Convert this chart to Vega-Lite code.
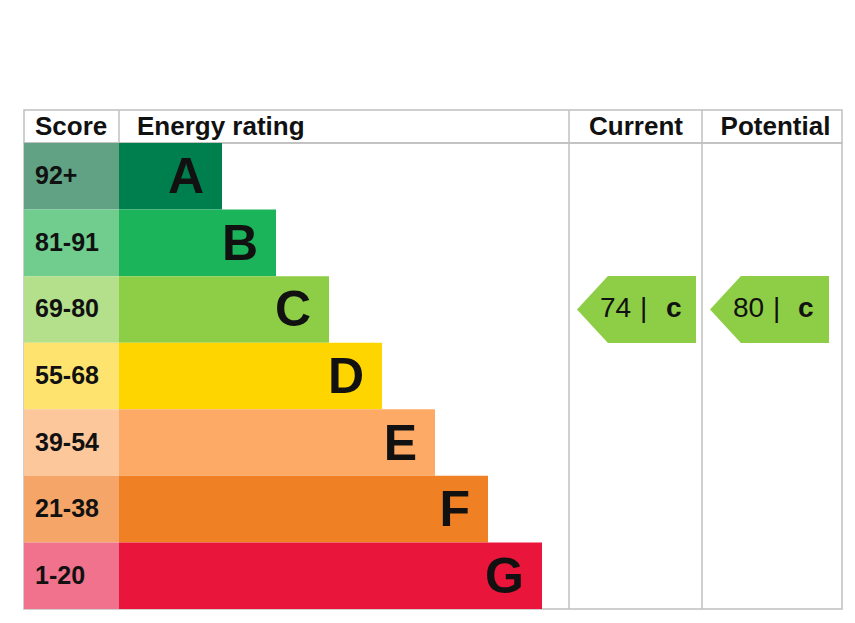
{
  "$schema": "https://vega.github.io/schema/vega-lite/v6.json",
  "background": "white",
  "padding": {"left": 23, "top": 108, "right": 13, "bottom": 14},
  "spacing": 0,
  "bounds": "flush",
  "config": {
    "view": {"stroke": "#c0c0c0", "strokeWidth": 1.5},
    "text": {"font": "Liberation Sans", "color": "#111111"},
    "concat": {"spacing": 0}
  },
  "datasets": {
    "bands": [
      {"rating": "A", "score": "92+", "length": 103},
      {"rating": "B", "score": "81-91", "length": 157},
      {"rating": "C", "score": "69-80", "length": 210},
      {"rating": "D", "score": "55-68", "length": 263},
      {"rating": "E", "score": "39-54", "length": 316},
      {"rating": "F", "score": "21-38", "length": 369},
      {"rating": "G", "score": "1-20", "length": 423}
    ],
    "assessments": [
      {"column": "Current", "score": 74, "rating": "C", "grade": "c"},
      {"column": "Potential", "score": 80, "rating": "C", "grade": "c"}
    ],
    "one": [{}]
  },
  "vconcat": [
    {
      "width": 818,
      "height": 33,
      "layer": [
        {"data": {"name": "one"}, "mark": {"type": "rule", "color": "#c0c0c0", "strokeWidth": 1.5},
         "encoding": {"x": {"datum": 0, "type": "quantitative", "scale": {"domain": [-95, 723], "nice": false, "zero": false}, "axis": null}}},
        {"data": {"name": "one"}, "mark": {"type": "rule", "color": "#c0c0c0", "strokeWidth": 1.5},
         "encoding": {"x": {"datum": 450, "type": "quantitative", "axis": null}}},
        {"data": {"name": "one"}, "mark": {"type": "rule", "color": "#c0c0c0", "strokeWidth": 1.5},
         "encoding": {"x": {"datum": 583, "type": "quantitative", "axis": null}}},
        {"data": {"values": [{"header": "Score"}]},
         "mark": {"type": "text", "align": "left", "baseline": "middle", "fontSize": 26, "fontWeight": "bold"},
         "encoding": {"x": {"datum": -84, "type": "quantitative", "axis": null}, "text": {"field": "header"}}},
        {"data": {"values": [{"header": "Energy rating"}]},
         "mark": {"type": "text", "align": "left", "baseline": "middle", "fontSize": 26, "fontWeight": "bold"},
         "encoding": {"x": {"datum": 18, "type": "quantitative", "axis": null}, "text": {"field": "header"}}},
        {"data": {"values": [{"header": "Current"}]},
         "mark": {"type": "text", "align": "center", "baseline": "middle", "fontSize": 26, "fontWeight": "bold"},
         "encoding": {"x": {"datum": 517, "type": "quantitative", "axis": null}, "text": {"field": "header"}}},
        {"data": {"values": [{"header": "Potential"}]},
         "mark": {"type": "text", "align": "center", "baseline": "middle", "fontSize": 26, "fontWeight": "bold"},
         "encoding": {"x": {"datum": 656.5, "type": "quantitative", "axis": null}, "text": {"field": "header"}}}
      ]
    },
    {
      "width": 818,
      "height": 466,
      "resolve": {"scale": {"color": "independent"}},
      "layer": [
        {"data": {"name": "one"}, "mark": {"type": "rule", "color": "#c0c0c0", "strokeWidth": 1.5},
         "encoding": {"x": {"datum": 450, "type": "quantitative", "scale": {"domain": [-95, 723], "nice": false, "zero": false}, "axis": null}}},
        {"data": {"name": "one"}, "mark": {"type": "rule", "color": "#c0c0c0", "strokeWidth": 1.5},
         "encoding": {"x": {"datum": 583, "type": "quantitative", "axis": null}}},
        {"data": {"name": "bands"},
         "mark": {"type": "bar", "cornerRadius": 0},
         "encoding": {
           "x": {"datum": -95, "type": "quantitative", "axis": null},
           "x2": {"datum": 0},
           "y": {"field": "rating", "type": "nominal", "scale": {"domain": ["A","B","C","D","E","F","G"], "paddingInner": 0, "paddingOuter": 0}, "axis": null},
           "color": {"field": "score", "type": "nominal", "legend": null,
             "scale": {"domain": ["92+","81-91","69-80","55-68","39-54","21-38","1-20"],
                       "range": ["#60a283","#70cd8e","#b4df8b","#fee46e","#fdc79c","#f4a567","#f0728c"]}}
         }},
        {"data": {"name": "bands"},
         "mark": {"type": "bar", "cornerRadius": 0},
         "encoding": {
           "x": {"field": "length", "type": "quantitative", "axis": null},
           "x2": {"datum": 0},
           "y": {"field": "rating", "type": "nominal", "axis": null},
           "color": {"field": "rating", "type": "nominal", "legend": null,
             "scale": {"domain": ["A","B","C","D","E","F","G"],
                       "range": ["#007f4e","#1bb45a","#8dce46","#ffd500","#fcaa65","#ef8023","#e9153b"]}}
         }},
        {"data": {"name": "bands"},
         "mark": {"type": "text", "align": "left", "baseline": "middle", "fontSize": 25, "fontWeight": "bold"},
         "encoding": {
           "x": {"datum": -84, "type": "quantitative", "axis": null},
           "y": {"field": "rating", "type": "nominal", "axis": null},
           "text": {"field": "score"}
         }},
        {"data": {"name": "bands"},
         "mark": {"type": "text", "align": "right", "baseline": "middle", "fontSize": 50, "fontWeight": "bold", "dx": -18, "dy": 2},
         "encoding": {
           "x": {"field": "length", "type": "quantitative", "axis": null},
           "y": {"field": "rating", "type": "nominal", "axis": null},
           "text": {"field": "rating"}
         }},
        {"data": {"name": "assessments"},
         "transform": [{"filter": "datum.column == 'Current'"}],
         "layer": [
           {"mark": {"type": "point", "filled": true, "opacity": 1, "strokeWidth": 0, "size": 14161,
                     "shape": "M -1 0 L -0.48 -0.563 L 1 -0.563 L 1 0.563 L -0.48 0.563 Z"},
            "encoding": {
              "x": {"datum": 517.5, "type": "quantitative", "axis": null},
              "y": {"field": "rating", "type": "nominal", "axis": null},
              "color": {"field": "rating", "type": "nominal", "legend": null,
                "scale": {"domain": ["A","B","C","D","E","F","G"],
                          "range": ["#007f4e","#1bb45a","#8dce46","#ffd500","#fcaa65","#ef8023","#e9153b"]}}
            }},
           {"mark": {"type": "text", "align": "left", "baseline": "middle", "fontSize": 28},
            "encoding": {
              "x": {"datum": 481, "type": "quantitative", "axis": null},
              "y": {"field": "rating", "type": "nominal", "axis": null},
              "text": {"field": "score"}
            }},
           {"mark": {"type": "text", "align": "left", "baseline": "middle", "fontSize": 28, "text": "|"},
            "encoding": {
              "x": {"datum": 521, "type": "quantitative", "axis": null},
              "y": {"field": "rating", "type": "nominal", "axis": null}
            }},
           {"mark": {"type": "text", "align": "left", "baseline": "middle", "fontSize": 28, "fontWeight": "bold"},
            "encoding": {
              "x": {"datum": 547, "type": "quantitative", "axis": null},
              "y": {"field": "rating", "type": "nominal", "axis": null},
              "text": {"field": "grade"}
            }}
         ]},
        {"data": {"name": "assessments"},
         "transform": [{"filter": "datum.column == 'Potential'"}],
         "layer": [
           {"mark": {"type": "point", "filled": true, "opacity": 1, "strokeWidth": 0, "size": 14161,
                     "shape": "M -1 0 L -0.48 -0.563 L 1 -0.563 L 1 0.563 L -0.48 0.563 Z"},
            "encoding": {
              "x": {"datum": 650.5, "type": "quantitative", "axis": null},
              "y": {"field": "rating", "type": "nominal", "axis": null},
              "color": {"field": "rating", "type": "nominal", "legend": null,
                "scale": {"domain": ["A","B","C","D","E","F","G"],
                          "range": ["#007f4e","#1bb45a","#8dce46","#ffd500","#fcaa65","#ef8023","#e9153b"]}}
            }},
           {"mark": {"type": "text", "align": "left", "baseline": "middle", "fontSize": 28},
            "encoding": {
              "x": {"datum": 614, "type": "quantitative", "axis": null},
              "y": {"field": "rating", "type": "nominal", "axis": null},
              "text": {"field": "score"}
            }},
           {"mark": {"type": "text", "align": "left", "baseline": "middle", "fontSize": 28, "text": "|"},
            "encoding": {
              "x": {"datum": 654, "type": "quantitative", "axis": null},
              "y": {"field": "rating", "type": "nominal", "axis": null}
            }},
           {"mark": {"type": "text", "align": "left", "baseline": "middle", "fontSize": 28, "fontWeight": "bold"},
            "encoding": {
              "x": {"datum": 679, "type": "quantitative", "axis": null},
              "y": {"field": "rating", "type": "nominal", "axis": null},
              "text": {"field": "grade"}
            }}
         ]}
      ]
    }
  ]
}
